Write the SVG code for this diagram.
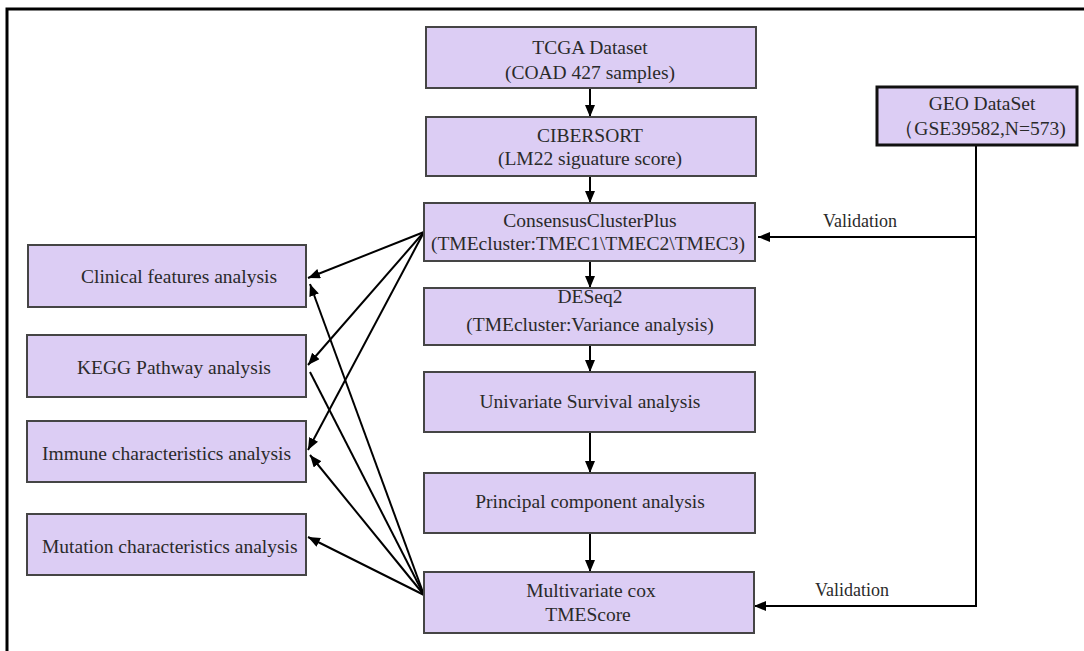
<svg xmlns="http://www.w3.org/2000/svg" width="1084" height="651" viewBox="0 0 1084 651">
<style>
.box{fill:#dccdf4;stroke:#454545;stroke-width:2}
.geo{fill:#dccdf4;stroke:#111;stroke-width:3}
text{font-family:"Liberation Serif","Times New Roman",serif;font-size:19.5px;fill:#2a2a2a}
.c{text-anchor:middle}
.v{font-size:18px}
.ln{stroke:#000;stroke-width:2;fill:none}
</style>
<defs>
<marker id="ah" markerUnits="userSpaceOnUse" markerWidth="14" markerHeight="12" refX="12" refY="5" orient="auto">
<path d="M0,0 L12,5 L0,10 Z" fill="#000"/>
</marker>
</defs>
<rect width="1084" height="651" fill="#fff"/>
<path d="M7,651 V9 H1084" fill="none" stroke="#000" stroke-width="3"/>

<g id="connectors">
<line class="ln" x1="590" y1="88" x2="590" y2="117" marker-end="url(#ah)"/>
<line class="ln" x1="590" y1="176" x2="590" y2="203" marker-end="url(#ah)"/>
<line class="ln" x1="590" y1="261" x2="590" y2="288" marker-end="url(#ah)"/>
<line class="ln" x1="590" y1="345" x2="590" y2="372" marker-end="url(#ah)"/>
<line class="ln" x1="590" y1="432" x2="590" y2="473" marker-end="url(#ah)"/>
<line class="ln" x1="590" y1="533" x2="590" y2="572" marker-end="url(#ah)"/>
<line class="ln" x1="424" y1="232" x2="308" y2="278" marker-end="url(#ah)"/>
<line class="ln" x1="424" y1="232" x2="308" y2="365" marker-end="url(#ah)"/>
<line class="ln" x1="424" y1="232" x2="308" y2="450" marker-end="url(#ah)"/>
<line class="ln" x1="424" y1="595" x2="310" y2="284" marker-end="url(#ah)"/>
<line class="ln" x1="424" y1="595" x2="310" y2="372"/>
<line class="ln" x1="424" y1="595" x2="310" y2="455" marker-end="url(#ah)"/>
<line class="ln" x1="424" y1="595" x2="308" y2="537" marker-end="url(#ah)"/>
<line class="ln" x1="976" y1="145" x2="976" y2="607"/>
<line class="ln" x1="977" y1="237" x2="758" y2="237" marker-end="url(#ah)"/>
<line class="ln" x1="977" y1="606" x2="754" y2="606" marker-end="url(#ah)"/>
<text class="c v" x="860" y="227">Validation</text>
<text class="c v" x="852" y="596">Validation</text>
</g>

<g id="tcga">
<rect class="box" x="426" y="27" width="330" height="61"/>
<text class="c" x="590" y="54">TCGA Dataset</text>
<text class="c" x="590" y="79">(COAD 427 samples)</text>
</g>
<g id="cibersort">
<rect class="box" x="426" y="117" width="330" height="59"/>
<text class="c" x="590" y="142">CIBERSORT</text>
<text class="c" x="590" y="165">(LM22 siguature score)</text>
</g>
<g id="consensus">
<rect class="box" x="424" y="203" width="331" height="58"/>
<text class="c" x="590" y="227">ConsensusClusterPlus</text>
<text class="c" x="588" y="250">(TMEcluster:TMEC1\TMEC2\TMEC3)</text>
</g>
<g id="deseq2">
<rect class="box" x="424" y="288" width="331" height="57"/>
<text class="c" x="590" y="303">DESeq2</text>
<text class="c" x="590" y="331">(TMEcluster:Variance analysis)</text>
</g>
<g id="univariate">
<rect class="box" x="424" y="372" width="331" height="60"/>
<text class="c" x="590" y="408">Univariate Survival analysis</text>
</g>
<g id="pca">
<rect class="box" x="424" y="473" width="331" height="60"/>
<text class="c" x="590" y="508">Principal component analysis</text>
</g>
<g id="multivariate">
<rect class="box" x="424" y="572" width="330" height="61"/>
<text class="c" x="591" y="597">Multivariate cox</text>
<text class="c" x="588" y="621">TMEScore</text>
</g>
<g id="geo">
<rect class="geo" x="877" y="87" width="200" height="58"/>
<text class="c" x="982" y="110">GEO DataSet</text>
<text class="c" x="980" y="135">（GSE39582,N=573)</text>
</g>
<g id="clinical">
<rect class="box" x="28" y="245" width="278" height="62"/>
<text x="81" y="283">Clinical features analysis</text>
</g>
<g id="kegg">
<rect class="box" x="27" y="335" width="279" height="62"/>
<text x="77" y="374">KEGG Pathway analysis</text>
</g>
<g id="immune">
<rect class="box" x="27" y="421" width="279" height="61"/>
<text x="42" y="460">Immune characteristics analysis</text>
</g>
<g id="mutation">
<rect class="box" x="27" y="514" width="279" height="61"/>
<text x="42" y="553">Mutation characteristics analysis</text>
</g>
</svg>
